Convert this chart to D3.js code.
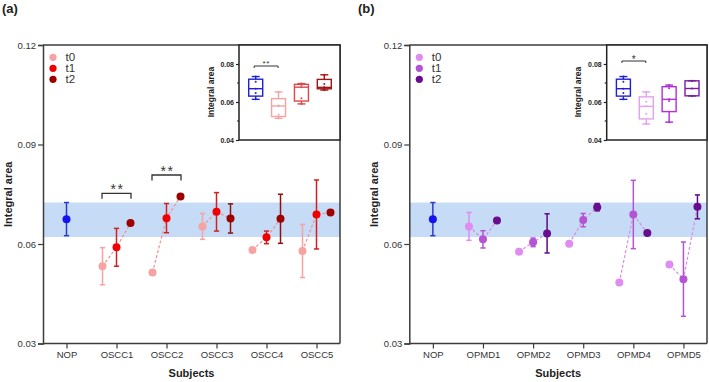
<!DOCTYPE html>
<html>
<head>
<meta charset="utf-8">
<script src="https://cdn.jsdelivr.net/npm/d3@7"></script>
<style>
  html, body { margin: 0; padding: 0; background: #fff; }
  svg { display: block; font-family: "Liberation Sans", Arial, sans-serif; }
</style>
</head>
<body>
<svg id="chart" width="709" height="382"></svg>
<script>
// ---------------- DATA ----------------
const categoriesA = ["NOP", "OSCC1", "OSCC2", "OSCC3", "OSCC4", "OSCC5"];
const categoriesB = ["NOP", "OPMD1", "OPMD2", "OPMD3", "OPMD4", "OPMD5"];
const timepoints = ["t0", "t1", "t2"];

const nopMean = 0.0675;
const nopSD = 0.0050;
const nopBand = [0.0621, 0.0725];
const nopSamples = [0.0614, 0.0648, 0.0670, 0.0706, 0.0734];

// OSCC subjects (mean, sd) per timepoint
const osccT0 = [0.0533, 0.0514, 0.0653, 0.0582, 0.0579];
const osccT0sd = [0.0056, 0.0008, 0.0039, 0.0000, 0.0080];
const osccT1 = [0.0590, 0.0678, 0.0697, 0.0620, 0.0689];
const osccT1sd = [0.0057, 0.0044, 0.0058, 0.0019, 0.0104];
const osccT2 = [0.0663, 0.0743, 0.0677, 0.0676, 0.0695];
const osccT2sd = [0.0000, 0.0000, 0.0044, 0.0074, 0.0000];

// OPMD subjects
const opmdT0 = [0.0653, 0.0577, 0.0601, 0.0484, 0.0538];
const opmdT0sd = [0.0042, 0.0000, 0.0000, 0.0000, 0.0000];
const opmdT1 = [0.0614, 0.0605, 0.0672, 0.0689, 0.0494];
const opmdT1sd = [0.0026, 0.0013, 0.0020, 0.0103, 0.0112];
const opmdT2 = [0.0671, 0.0632, 0.0711, 0.0633, 0.0712];
const opmdT2sd = [0.0000, 0.0059, 0.0011, 0.0000, 0.0036];

const yTicks = [0.03, 0.06, 0.09, 0.12];
const insetTicks = [0.04, 0.06, 0.08];
const insetMinorTicks = [0.05, 0.07];

// ---------------- STYLE ----------------
const svg = d3.select("#chart");
const axisColor = "#3c3c3c";
const bandColor = "#c6dbf6";
const nopColor = "#1414f0", nopErr = "#2b3bc8";

const panels = [
  {
    label: "(a)", labelX: 2, left: 43, right: 340,
    cats: categoriesA,
    means: [osccT0, osccT1, osccT2], sds: [osccT0sd, osccT1sd, osccT2sd],
    colors: ["#f5a3a3", "#f00000", "#9e0000"],
    errColors: ["#f5a3a3", "#d02020", "#8e1010"],
    dashColor: "#f29090",
    boxColors: ["#2020d8", "#f5a3a3", "#e0464a", "#a01515"],
    inset: { left: 239, right: 340, ylabX: 214 },
    brackets: [{ cat: 1, text: "**", yPx: 193.3 }, { cat: 2, text: "**", yPx: 175 }],
    insetSig: { text: "**", yPx: 66, fs: 8, dy: 0 }
  },
  {
    label: "(b)", labelX: 358, left: 409.3, right: 707,
    cats: categoriesB,
    means: [opmdT0, opmdT1, opmdT2], sds: [opmdT0sd, opmdT1sd, opmdT2sd],
    colors: ["#e08cf0", "#b454d4", "#6a0c8e"],
    errColors: ["#e08cf0", "#b454d4", "#5e0a80"],
    dashColor: "#d88ce8",
    boxColors: ["#2020d8", "#e4a0f0", "#b030d8", "#7a1fa0"],
    inset: { left: 606.7, right: 707, ylabX: 581 },
    brackets: [],
    insetSig: { text: "*", yPx: 61, fs: 10, dy: 1.5 }
  }
];

const plotTop = 45, plotBottom = 343.5;
const y = d3.scaleLinear().domain([0.03, 0.12]).range([plotBottom, plotTop]);
const offsets = [-14, 0, 14];

function gpQuantile(sorted, p) {
  const n = sorted.length, pos = (n + 1) * p;
  const lo = Math.floor(pos), frac = pos - lo;
  if (lo < 1) return sorted[0];
  if (lo >= n) return sorted[n - 1];
  return sorted[lo - 1] + frac * (sorted[lo] - sorted[lo - 1]);
}

panels.forEach(P => {
  const g = svg.append("g");
  const x = d3.scalePoint().domain(P.cats).range([P.left, P.right]).padding(0.47);

  g.append("text").attr("x", P.labelX).attr("y", 13).attr("font-size", 13)
    .attr("font-weight", "bold").attr("fill", "#222").text(P.label);

  g.append("rect").attr("x", P.left).attr("width", P.right - P.left)
    .attr("y", y(nopBand[1])).attr("height", y(nopBand[0]) - y(nopBand[1]))
    .attr("fill", bandColor);

  g.append("path").attr("d", `M${P.left},${plotTop}H${P.right}V${plotBottom}`)
    .attr("fill", "none").attr("stroke", axisColor).attr("stroke-width", 1.5);

  const ya = g.append("g").attr("transform", `translate(${P.left},0)`)
    .call(d3.axisLeft(y).tickValues(yTicks).tickFormat(d3.format(".2f")).tickSize(5).tickPadding(2));
  ya.select(".domain").attr("stroke", axisColor).attr("stroke-width", 1.5);
  ya.selectAll(".tick line").attr("stroke", axisColor).attr("stroke-width", 1.2);
  ya.selectAll(".tick text").attr("font-size", 9.5).attr("fill", "#333").attr("font-family", "Liberation Sans, Arial, sans-serif");

  const xa = g.append("g").attr("transform", `translate(0,${plotBottom})`)
    .call(d3.axisBottom(x).tickSize(5).tickPadding(3).tickSizeOuter(0));
  xa.select(".domain").attr("stroke", axisColor).attr("stroke-width", 1.5)
    .attr("d", `M${P.left},0H${P.right}`);
  xa.selectAll(".tick line").attr("stroke", axisColor).attr("stroke-width", 1.2);
  xa.selectAll(".tick text").attr("font-size", 9.5).attr("fill", "#333").attr("font-family", "Liberation Sans, Arial, sans-serif");

  g.append("text").attr("transform", `translate(${P.left - 31},${(plotTop + plotBottom) / 2}) rotate(-90)`)
    .attr("text-anchor", "middle").attr("font-size", 11).attr("font-weight", "bold")
    .attr("fill", "#222").text("Integral area");
  g.append("text").attr("x", (P.left + P.right) / 2).attr("y", 377)
    .attr("text-anchor", "middle").attr("font-size", 11).attr("font-weight", "bold")
    .attr("fill", "#222").text("Subjects");

  const drawErr = (gg, cx, m, s, col) => {
    if (s <= 0) return;
    gg.append("line").attr("x1", cx).attr("x2", cx).attr("y1", y(m - s)).attr("y2", y(m + s))
      .attr("stroke", col).attr("stroke-width", 1.5);
    [m - s, m + s].forEach(v => gg.append("line").attr("x1", cx - 2.6).attr("x2", cx + 2.6)
      .attr("y1", y(v)).attr("y2", y(v)).attr("stroke", col).attr("stroke-width", 1.5));
  };
  const nx = x("NOP");
  drawErr(g, nx, nopMean, nopSD, nopErr);
  g.append("circle").attr("cx", nx).attr("cy", y(nopMean)).attr("r", 4).attr("fill", nopColor);

  const subjects = P.cats.slice(1);
  subjects.forEach((c, i) => {
    const cx = x(c);
    const pts = timepoints.map((t, k) => [cx + offsets[k], y(P.means[k][i])]);
    g.append("path").attr("d", d3.line()(pts)).attr("fill", "none")
      .attr("stroke", P.dashColor).attr("stroke-width", 1.2).attr("stroke-dasharray", "3,2");
  });
  subjects.forEach((c, i) => {
    const cx = x(c);
    timepoints.forEach((t, k) => drawErr(g, cx + offsets[k], P.means[k][i], P.sds[k][i], P.errColors[k]));
  });
  subjects.forEach((c, i) => {
    const cx = x(c);
    timepoints.forEach((t, k) => {
      g.append("circle").attr("cx", cx + offsets[k]).attr("cy", y(P.means[k][i])).attr("r", 4)
        .attr("fill", P.colors[k]);
    });
  });

  P.brackets.forEach(b => {
    const cx = x(P.cats[b.cat]);
    const x1 = cx - 14.5, x2 = cx + 14.5;
    g.append("path").attr("d", `M${x1},${b.yPx + 5.5}V${b.yPx}H${x2}V${b.yPx + 5.5}`)
      .attr("fill", "none").attr("stroke", "#333").attr("stroke-width", 1.3);
    g.append("text").attr("x", cx + 1).attr("y", b.yPx + 0.5).attr("text-anchor", "middle")
      .attr("font-size", 14).attr("letter-spacing", 1.5).attr("fill", "#333").text(b.text);
  });

  timepoints.forEach((t, k) => {
    const ly = 57.3 + k * 11;
    g.append("circle").attr("cx", P.left + 10).attr("cy", ly).attr("r", 3.6).attr("fill", P.colors[k]);
    g.append("text").attr("x", P.left + 22.5).attr("y", ly + 4).attr("font-size", 11.5)
      .attr("fill", "#333").text(t);
  });

  // ---------- inset ----------
  const I = P.inset;
  const iy = d3.scaleLinear().domain([0.04, 0.09]).range([140, plotTop]);
  const groups = ["NOP"].concat(timepoints);
  const ix = d3.scalePoint().domain(groups).range([I.left + 16.7, I.left + 85.3]);
  const ig = g.append("g");
  ig.append("rect").attr("x", I.left).attr("y", plotTop).attr("width", I.right - I.left)
    .attr("height", 140 - plotTop).attr("fill", "#fff").attr("stroke", "#222").attr("stroke-width", 1.5);
  const iya = ig.append("g").attr("transform", `translate(${I.left},0)`)
    .call(d3.axisLeft(iy).tickValues(insetTicks).tickFormat(d3.format(".2f")).tickSize(3).tickPadding(2));
  iya.select(".domain").remove();
  iya.selectAll(".tick line").attr("stroke", "#222").attr("stroke-width", 1.2);
  iya.selectAll(".tick text").attr("font-size", 7).attr("font-weight", "bold").attr("fill", "#222")
    .attr("font-family", "Liberation Sans, Arial, sans-serif");
  insetMinorTicks.forEach(v => ig.append("line").attr("x1", I.left - 2).attr("x2", I.left)
    .attr("y1", iy(v)).attr("y2", iy(v)).attr("stroke", "#222").attr("stroke-width", 1.2));
  ig.append("text").attr("transform", `translate(${I.ylabX},92) rotate(-90)`)
    .attr("text-anchor", "middle").attr("font-size", 8.5).attr("font-weight", "bold")
    .attr("fill", "#222").text("Integral area");

  const groupData = [nopSamples].concat(P.means);
  groups.forEach((gname, k) => {
    const vals = groupData[k].slice().sort(d3.ascending);
    const q1 = gpQuantile(vals, 0.25), med = gpQuantile(vals, 0.5), q3 = gpQuantile(vals, 0.75);
    const mn = vals[0], mx = vals[vals.length - 1];
    const cx = ix(gname), col = P.boxColors[k], w = 7;
    const st = { stroke: col, "stroke-width": 1.4, fill: "none" };
    const add = (tag, attrs) => { const e = ig.append(tag); Object.entries(Object.assign({}, st, attrs)).forEach(([a, v]) => e.attr(a, v)); return e; };
    add("line", { x1: cx, x2: cx, y1: iy(mx), y2: iy(q3) });
    add("line", { x1: cx, x2: cx, y1: iy(q1), y2: iy(mn) });
    add("line", { x1: cx - 4, x2: cx + 4, y1: iy(mx), y2: iy(mx) });
    add("line", { x1: cx - 4, x2: cx + 4, y1: iy(mn), y2: iy(mn) });
    add("rect", { x: cx - w, y: iy(q3), width: 2 * w, height: iy(q1) - iy(q3) });
    add("line", { x1: cx - w, x2: cx + w, y1: iy(med), y2: iy(med) });
    vals.forEach(v => ig.append("circle").attr("cx", cx).attr("cy", iy(v)).attr("r", 1).attr("fill", col));
  });
  const s1 = ix("NOP") - 1.5, s2 = ix("t0") - 0.5, sy = P.insetSig.yPx;
  ig.append("path").attr("d", `M${s1},${sy + 2}V${sy}H${s2}V${sy + 2}`)
    .attr("fill", "none").attr("stroke", "#333").attr("stroke-width", 1);
  ig.append("text").attr("x", (s1 + s2) / 2).attr("y", sy + P.insetSig.dy)
    .attr("text-anchor", "middle").attr("font-size", P.insetSig.fs).attr("letter-spacing", 0.5)
    .attr("fill", "#333").text(P.insetSig.text);
});
</script>
</body>
</html>
